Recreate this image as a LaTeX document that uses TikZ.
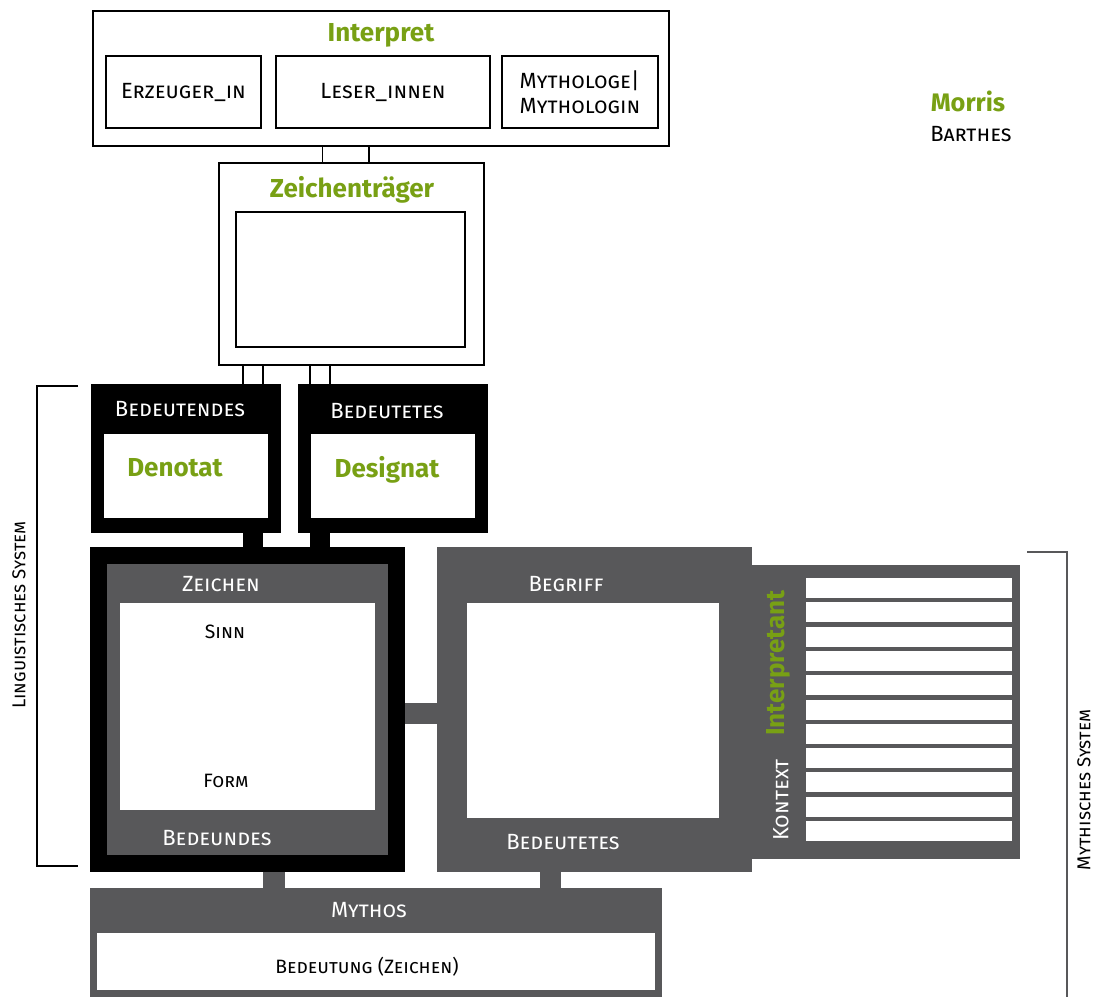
\documentclass[tikz,border=0pt]{standalone}
\usepackage{fontspec}
\setmainfont{Fira Sans}
\usetikzlibrary{calc}
\definecolor{mgreen}{RGB}{120,160,20}
\definecolor{mgray}{RGB}{88,88,90}
\newcommand\pxu{0.75pt}
\begin{document}
\begin{tikzpicture}[x=0.75pt,y=-0.75pt,
    box/.style={rectangle,anchor=north west,inner sep=0pt,outer sep=0pt},
    sz/.style 2 args={minimum width=#1*\pxu,minimum height=#2*\pxu},
    lbl/.style={font=\fontsize{16.5}{19}\selectfont\scshape},
    small/.style={font=\fontsize{14.5}{17}\selectfont\scshape},
    side/.style={font=\fontsize{14}{16}\selectfont\scshape,rotate=90},
    ttl/.style={font=\fontsize{19.5}{22}\selectfont\bfseries,text=mgreen},
    thin/.style={line width=1.2pt},
    bridge/.style={line width=#1*\pxu}]
    \useasboundingbox (0,0) rectangle (1096,997);

    \node[box,draw,thin,sz={576}{135}] (interp) at (93,11) {};
    \node[ttl] (interpT) at (381,35) {Interpret};
    \node[box,draw,thin,sz={155}{72}] (erz) at (106,56) {};
    \node[lbl] at (erz.center) {Erzeuger\_in};
    \node[box,draw,thin,sz={214}{72}] (leser) at (276,56) {};
    \node[lbl] at (leser.center) {Leser\_innen};
    \node[box,draw,thin,sz={156}{72}] (mytho) at (502,56) {};
    \node[lbl,align=left] at (mytho.center) {Mythologe|\\Mythologin};

    \node[box,draw,thin,sz={265}{202}] (zt) at (219,163) {};
    \node[ttl] (ztT) at (352,190) {Zeichenträger};
    \node[box,draw,line width=1.8pt,sz={229}{135}] (ztin) at (236,212) {};
    \draw[thin] (zt.north) ++(-29,0) rectangle ($(interp.south)+(-12,0)$);

    \node[box,fill=black,sz={190}{149}] (bdnd) at (91,384) {};
    \node[box,fill=white,sz={164}{84}] (bdndin) at (104,434) {};
    \node[lbl,text=white] at (180,409) {Bedeutendes};
    \node[ttl] at (175,468) {Denotat};
    \node[box,fill=black,sz={190}{149}] (bdtt) at (298,384) {};
    \node[box,fill=white,sz={164}{84}] (bdttin) at (311,434) {};
    \node[lbl,text=white] at (387,411) {Bedeutetes};
    \node[ttl] at (387,470) {Designat};

    \foreach \dx in {57,77}
        \draw[thin] (bdnd.north) ++(\dx,0) -- ++(0,-19);
    \foreach \dx in {-83,-63}
        \draw[thin] (bdtt.north) ++(\dx,0) -- ++(0,-19);

    \node[box,fill=black,sz={315}{325}] (zeichen) at (90,547) {};
    \node[box,fill=mgray,sz={281}{291}] (zgray) at (107,564) {};
    \node[box,fill=white,sz={255}{207}] (zwhite) at (120,603) {};
    \node[lbl,text=white] at (221,584) {Zeichen};
    \node[small] at (225,632) {Sinn};
    \node[small] at (226,781) {Form};
    \node[lbl,text=white] at (217,838) {Bedeundes};

    \draw[bridge=20] (bdnd.south) ++(67,0) -- ++(0,15);
    \draw[bridge=20] (bdtt.south) ++(-73,0) -- ++(0,15);

    \node[box,fill=mgray,sz={315}{325}] (begriff) at (437,547) {};
    \node[box,fill=white,sz={252}{215}] (bwhite) at (467,603) {};
    \node[lbl,text=white] at (566,584) {Begriff};
    \node[lbl,text=white] at (563,842) {Bedeutetes};
    \draw[mgray,bridge=21] ($(zeichen.east)+(0,4)$) -- ($(begriff.west)+(0,4)$);

    \node[box,fill=mgray,sz={268}{294}] (kontext) at (752,565) {};
    \foreach \i in {0,...,10}
        \node[box,fill=white,sz={206}{20}] (str\i) at (806,{578+24.3*\i}) {};
    \node[ttl,rotate=90] at (778,663) {Interpretant};
    \node[lbl,text=white,rotate=90] at (781,800) {Kontext};

    \node[box,fill=mgray,sz={572}{109}] (mythos) at (90,888) {};
    \node[box,fill=white,sz={558}{57}] (mwhite) at (97,933) {};
    \node[lbl,text=white] at (369,910) {Mythos};
    \node[small] at (367,967) {Bedeutung (Zeichen)};
    \draw[mgray,bridge=22] (zeichen.south) ++(26.5,0) -- ++(0,16);
    \draw[mgray,bridge=21] (begriff.south) ++(-44,0) -- ++(0,16);

    \draw[thin] (78,386) -- (37,386) -- (37,866) -- (78,866);
    \node[side] at (19,615) {Linguistisches System};
    \draw[thin,mgray] (1027,552) -- (1067,552) -- (1067,997);
    \node[side] at (1084,790) {Mythisches System};

    \node[ttl,font=\fontsize{19}{21}\selectfont\bfseries] (morris) at (968,101) {Morris};
    \node[lbl] (barthes) at (971,134) {Barthes};
\end{tikzpicture}
\end{document}
